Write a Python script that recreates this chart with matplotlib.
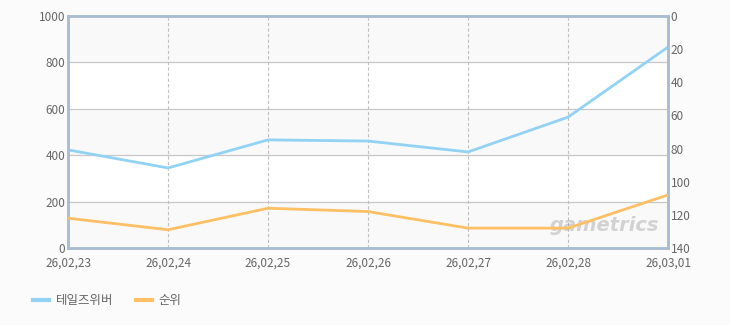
import matplotlib
matplotlib.use('Agg')
import matplotlib.pyplot as plt
from matplotlib.lines import Line2D

plt.rcParams['font.family'] = ['Noto Sans CJK KR', 'DejaVu Sans']

# ── 데이터 ──────────────────────────────────────────
dates = ['26,02,23', '26,02,24', '26,02,25', '26,02,26', '26,02,27', '26,02,28', '26,03,01']
users = [423, 345, 466, 461, 414, 564, 866]      # 테일즈위버 (left axis)
rank = [122, 129, 116, 118, 128, 128, 108]        # 순위 (right axis, inverted)
left_ticks = [0, 200, 400, 600, 800, 1000]
right_ticks = [0, 20, 40, 60, 80, 100, 120, 140]

BLUE = '#92d2f4'
ORANGE = '#fdc064'
TXT = '#666666'
SPINE = '#a9bcd2'

fig = plt.figure(figsize=(7.3, 3.25), dpi=100)
fig.patch.set_facecolor('#fbfbfb')
ax = fig.add_axes([68 / 730, 1 - 248 / 325, 600 / 730, 232 / 325])
ax.set_facecolor('white')

x = list(range(len(dates)))
ax.set_xlim(0, len(dates) - 1)
ax.set_ylim(0, 1000)

# 배경 띠
for i in range(0, len(left_ticks) - 1, 2):
    ax.axhspan(left_ticks[i], left_ticks[i + 1], color='#f9f9f9', zorder=0)

for t in left_ticks[1:-1]:
    ax.axhline(t, color='#c8c8c8', lw=0.9, zorder=1)
for xi in x[1:-1]:
    ax.axvline(xi, color='#c0c0c0', lw=0.8, ls=(0, (3, 2)), zorder=1)

ax.plot(x, users, color=BLUE, lw=2, zorder=3)
ax.set_yticks(left_ticks)
ax.set_xticks(x)
ax.set_xticklabels(dates)

ax2 = ax.twinx()
ax2.set_ylim(140, 0)
ax2.set_yticks(right_ticks)
ax2.plot(x, rank, color=ORANGE, lw=2, zorder=3)

for a in (ax, ax2):
    for s in a.spines.values():
        s.set_color(SPINE)
        s.set_linewidth(1.8)
    a.tick_params(length=0, labelsize=8.5, colors=TXT, pad=2)
ax.tick_params(axis='x', pad=6)

# 워터마크
ax.text(0.985, 0.055, 'gametrics', transform=ax.transAxes, ha='right', va='bottom',
        fontsize=14, fontweight='bold', style='italic', color='#999999', alpha=0.4,
        family='DejaVu Sans', zorder=2)

handles = [Line2D([], [], color=BLUE, lw=3), Line2D([], [], color=ORANGE, lw=3)]
fig.legend(handles, ['테일즈위버', '순위'], loc='center left', bbox_to_anchor=(0.03, 0.075),
           ncol=2, frameon=False, fontsize=9, labelcolor=TXT, handlelength=1.3,
           handletextpad=0.5, columnspacing=1.8)

fig.savefig('out.png', dpi=100, facecolor=fig.get_facecolor())
